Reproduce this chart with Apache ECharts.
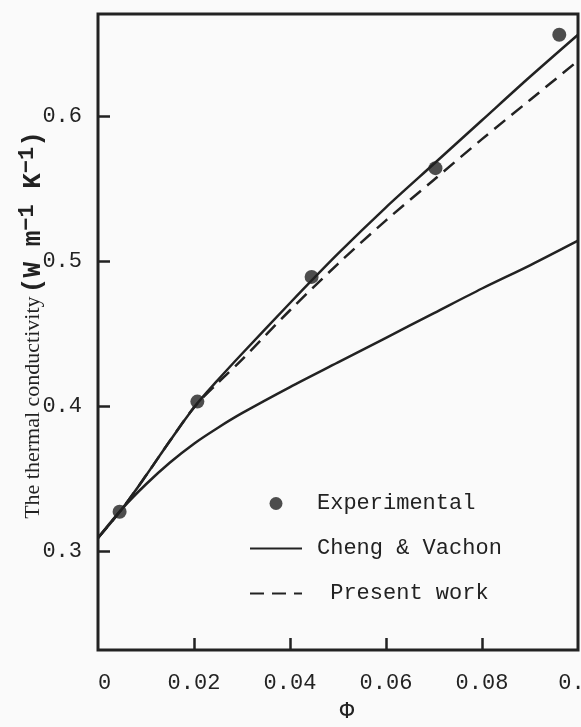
<!DOCTYPE html>
<html>
<head>
<meta charset="utf-8">
<script src="https://cdn.jsdelivr.net/npm/echarts@6/dist/echarts.min.js"></script>
<style>
  html, body { margin: 0; padding: 0; background: #fafafa; }
  #chart { width: 581px; height: 727px; }
</style>
</head>
<body>
<div id="chart"></div>
<script>
// volume fraction grid used for the model curves
const phi = [0, 0.005, 0.01, 0.015, 0.02, 0.025, 0.03, 0.04, 0.05, 0.06, 0.07, 0.08, 0.09, 0.1]
// upper solid curve
const chengUpper = [0.309, 0.329, 0.352, 0.376, 0.399, 0.418, 0.436, 0.471, 0.505, 0.537, 0.567, 0.597, 0.627, 0.656]
// lower solid curve
const chengLower = [0.309, 0.329, 0.346, 0.361, 0.374, 0.385, 0.395, 0.413, 0.430, 0.447, 0.464, 0.481, 0.497, 0.514]
// dashed curve
const presentWork = [0.309, 0.329, 0.352, 0.376, 0.399, 0.416, 0.432, 0.466, 0.498, 0.528, 0.556, 0.584, 0.611, 0.638]
// measured points
const expPhi = [0.0045, 0.0207, 0.0445, 0.0703, 0.0961]
const expK = [0.327, 0.403, 0.489, 0.564, 0.656]

const xTicks = [0.02, 0.04, 0.06, 0.08]
const xLabels = [0, 0.02, 0.04, 0.06, 0.08, 0.1]
const yTicks = [0.3, 0.4, 0.5, 0.6]

const ink = '#222'
const mono = '"Liberation Mono", "DejaVu Sans Mono", monospace'

const pairs = (xs, ys) => xs.map((x, i) => [x, ys[i]])

const chart = echarts.init(document.getElementById('chart'))
const option = {
  backgroundColor: '#fafafa',
  animation: false,
  grid: {
    left: 98,
    right: 3,
    top: 14,
    bottom: 77,
    outerBoundsMode: 'none',
    show: true,
    borderColor: ink,
    borderWidth: 3
  },
  legend: {
    orient: 'vertical',
    left: 244,
    top: 483,
    itemWidth: 52,
    itemHeight: 13,
    itemGap: 14,
    data: [
      { name: 'Experimental' },
      { name: 'Cheng & Vachon', itemStyle: { opacity: 0 } },
      { name: 'Present work', itemStyle: { opacity: 0 } }
    ],
    formatter: name => name === 'Present work' ? ' ' + name : name,
    textStyle: {
      fontFamily: mono,
      fontSize: 22,
      color: ink,
      lineHeight: 31,
      padding: [0, 0, 0, 10]
    }
  },
  xAxis: {
    type: 'value',
    min: 0,
    max: 0.1,
    name: 'Φ',
    nameLocation: 'middle',
    nameGap: 50,
    nameMoveOverlap: false,
    nameTextStyle: {
      fontFamily: mono,
      fontSize: 24,
      color: ink,
      padding: [0, 0, 0, 18]
    },
    axisLine: { show: false },
    axisTick: {
      inside: true,
      length: 12,
      customValues: xTicks,
      lineStyle: { color: ink, width: 2.5 }
    },
    axisLabel: {
      margin: 22,
      customValues: xLabels,
      fontFamily: mono,
      fontSize: 22,
      color: ink,
      formatter: v => v === 0 ? ' 0' : String(+v.toFixed(2))
    },
    splitLine: { show: false }
  },
  yAxis: {
    type: 'value',
    min: 0.2317,
    max: 0.6703,
    name: '{t|The thermal conductivity} {u|(W m}{s|−1}{u| K}{s|−1}{u|)}',
    nameLocation: 'middle',
    nameGap: 47,
    nameMoveOverlap: false,
    nameRotate: 90,
    nameTextStyle: {
      color: ink,
      padding: [0, 0, 0, 14],
      rich: {
        t: { fontFamily: '"Liberation Serif", serif', fontSize: 22, color: ink },
        u: { fontFamily: mono, fontSize: 26, fontWeight: 'bold', color: ink },
        s: { fontFamily: mono, fontSize: 22, fontWeight: 'bold', color: ink, padding: [0, 0, 13, 0] }
      }
    },
    axisLine: { show: false },
    axisTick: {
      inside: true,
      length: 12,
      customValues: yTicks,
      lineStyle: { color: ink, width: 2.5 }
    },
    axisLabel: {
      margin: 16,
      customValues: yTicks,
      fontFamily: mono,
      fontSize: 22,
      color: ink,
      formatter: v => v.toFixed(1)
    },
    splitLine: { show: false }
  },
  series: [
    {
      name: 'Experimental',
      type: 'scatter',
      symbol: 'circle',
      symbolSize: 14,
      itemStyle: { color: ink },
      data: pairs(expPhi, expK),
      z: 5
    },
    {
      name: 'Cheng & Vachon',
      type: 'line',
      smooth: 0.3,
      symbol: 'none',
      lineStyle: { color: ink, width: 2.5, type: 'solid' },
      itemStyle: { color: ink },
      data: pairs(phi, chengUpper)
    },
    {
      name: 'Cheng & Vachon',
      type: 'line',
      smooth: 0.3,
      symbol: 'none',
      lineStyle: { color: ink, width: 2.5, type: 'solid' },
      itemStyle: { color: ink },
      data: pairs(phi, chengLower)
    },
    {
      name: 'Present work',
      type: 'line',
      smooth: 0.3,
      symbol: 'none',
      lineStyle: { color: ink, width: 2.5, type: [14, 8] },
      itemStyle: { color: ink },
      data: pairs(phi, presentWork)
    }
  ]
}
chart.setOption(option)
</script>
</body>
</html>
